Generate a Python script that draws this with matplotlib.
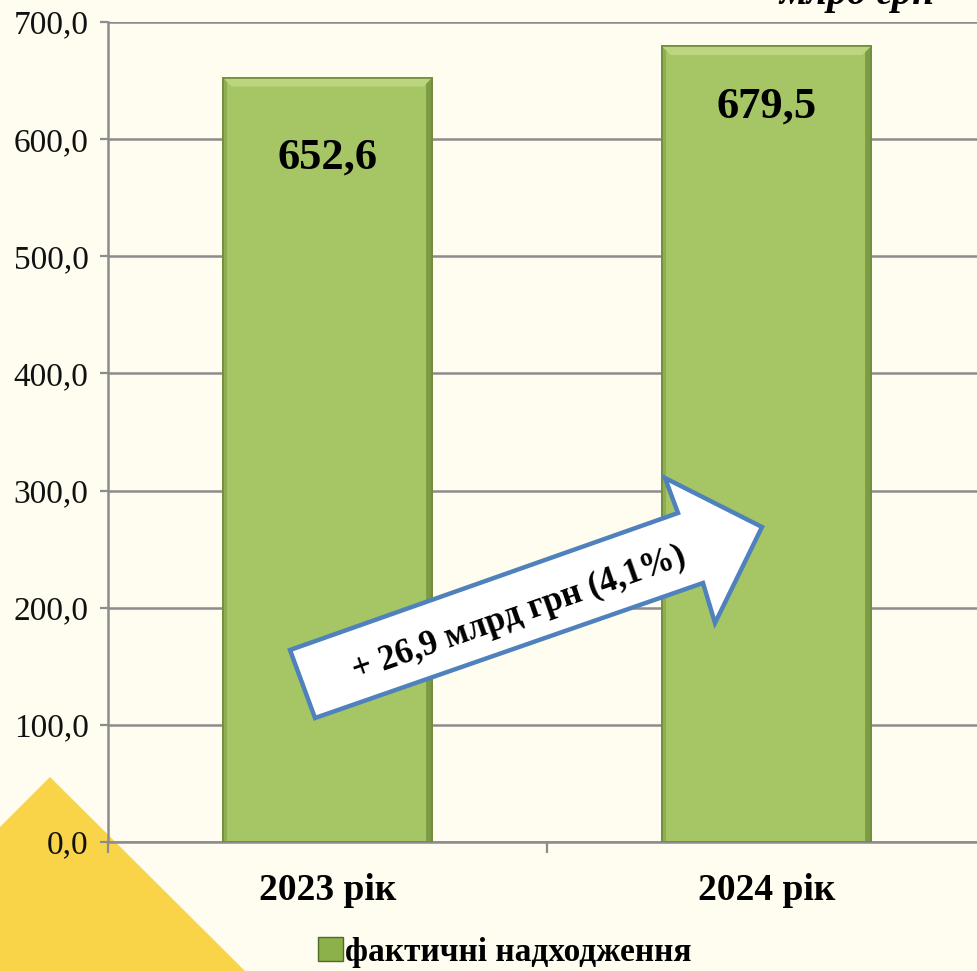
import matplotlib
matplotlib.use("Agg")
import matplotlib.pyplot as plt
from matplotlib.patches import Polygon, Rectangle
from matplotlib.ticker import FuncFormatter, FixedLocator

# ---- data ----
categories = ["2023 рік", "2024 рік"]
values = [652.6, 679.5]
value_labels = ["652,6", "679,5"]
series_name = "фактичні надходження"
arrow_text = "+ 26,9 млрд грн (4,1%)"
unit_text = "млрд грн"
y_ticks = [0, 100, 200, 300, 400, 500, 600, 700]

# ---- style ----
W, H = 978, 971
BG = "#FFFCF0"
GRID = "#8C8C8C"
BAR = "#A6C565"
BAR_TOP = "#BCD67F"
BAR_LEFT = "#8FAE52"
BAR_RIGHT = "#7D9A44"
BAR_EDGE = "#6F8C3A"
YELLOW = "#F9D449"
ARROW_EDGE = "#4F81BD"
SERIF = ["Liberation Serif", "DejaVu Serif"]
label_offsets_px = [80, 61]

plt.rcParams["font.family"] = SERIF

def fp(x, y):
    return (x / W, 1 - y / H)

fig = plt.figure(figsize=(W / 100, H / 100), dpi=100, facecolor=BG)

# yellow decorative triangle (behind axes)
tri = Polygon([fp(0, 827), fp(50, 777), fp(245, 971), fp(0, 971)],
              closed=True, transform=fig.transFigure, facecolor=YELLOW,
              edgecolor="none", zorder=-1)
fig.patches.append(tri)

ax = fig.add_axes([108 / W, 1 - 842 / H, (986 - 108) / W, 820 / H])
ax.set_facecolor("none")
ax.set_xlim(-0.5, 1.5)
ax.set_ylim(0, 700)

xs = list(range(len(values)))
bw = 0.478
bars = ax.bar(xs, values, width=bw, color=BAR, edgecolor=BAR_EDGE,
              linewidth=1.2, zorder=2)

# bevel effect from bar geometry
ux = 9 * (2.0 / 878)
uy = 9 * (700 / 820)
for b in bars:
    x0 = b.get_x(); x1 = x0 + b.get_width(); h = b.get_height()
    ax.add_patch(Polygon([(x0, h), (x1, h), (x1 - ux, h - uy), (x0 + ux, h - uy)],
                         closed=True, facecolor=BAR_TOP, edgecolor="none", zorder=3))
    ax.add_patch(Polygon([(x0, 0), (x0, h), (x0 + ux * 0.5, h - uy * 0.5), (x0 + ux * 0.5, 0)],
                         closed=True, facecolor=BAR_LEFT, edgecolor="none", zorder=3))
    ax.add_patch(Polygon([(x1, 0), (x1, h), (x1 - ux * 0.7, h - uy * 0.7), (x1 - ux * 0.7, 0)],
                         closed=True, facecolor=BAR_RIGHT, edgecolor="none", zorder=3))
    ax.add_patch(Rectangle((x0, 0), x1 - x0, h, facecolor="none",
                           edgecolor=BAR_EDGE, linewidth=1.2, zorder=4))

for i, (v, lab) in enumerate(zip(values, value_labels)):
    ax.annotate(lab, xy=(i, v), xytext=(0, -label_offsets_px[i] * 0.72),
                textcoords="offset points", ha="center", va="center",
                fontsize=32, fontweight="bold", color="black", zorder=5)

# grid
ax.set_yticks(y_ticks)
ax.yaxis.set_major_formatter(FuncFormatter(lambda v, p: f"{v:.1f}".replace(".", ",")))
ax.grid(axis="y", color=GRID, linewidth=1.8, zorder=0)
ax.set_axisbelow(True)

for s in ["top", "right"]:
    ax.spines[s].set_visible(False)
for s in ["left", "bottom"]:
    ax.spines[s].set_color(GRID)
    ax.spines[s].set_linewidth(1.8)

ax.tick_params(axis="y", length=6, width=1.6, color=GRID, labelsize=24,
               pad=8, labelcolor="#111111")
ax.xaxis.set_major_locator(FixedLocator([-0.5, 0.5, 1.5]))
ax.xaxis.set_minor_locator(FixedLocator(xs))
ax.tick_params(axis="x", which="major", length=8, width=1.6, color=GRID,
               labelbottom=False)
ax.set_xticklabels(categories, minor=True)
ax.tick_params(axis="x", which="minor", length=0, pad=22, labelsize=27)
for t in ax.get_xticklabels(minor=True):
    t.set_fontweight("bold")

# arrow annotation
arrow = Polygon([fp(315, 718), fp(290, 650), fp(678, 513), fp(665, 478),
                 fp(762, 527), fp(715, 623), fp(703, 583)],
                closed=True, transform=fig.transFigure, facecolor="white",
                edgecolor=ARROW_EDGE, linewidth=3.2, joinstyle="miter", zorder=5)
fig.patches.append(arrow)
fig.text(*fp(519, 614), arrow_text, rotation=19.4, rotation_mode="anchor",
         ha="center", va="center", fontsize=25, fontweight="bold", zorder=6)

# unit text (cut at top)
fig.text(935 / W, 1 - 4 / H, unit_text, ha="right", va="baseline",
         fontsize=29, fontweight="bold", style="italic")

# legend
handle = Rectangle((0, 0), 1, 1, facecolor="#8CB04A", edgecolor="#4E6B25", linewidth=1)
fig.legend([handle], [series_name], loc="center", bbox_to_anchor=fp(505, 952),
           frameon=False, handlelength=0.75, handleheight=0.75, handletextpad=0.05,
           prop={"family": SERIF, "weight": "bold", "size": 24})

fig.savefig("out.png", dpi=100, facecolor=BG)
